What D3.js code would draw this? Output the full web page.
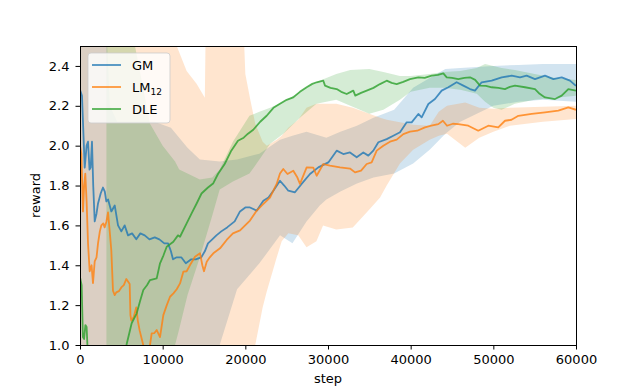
<!DOCTYPE html>
<html>
<head>
<meta charset="utf-8">
<script src="https://cdn.jsdelivr.net/npm/d3@7"></script>
<style>
  body { margin: 0; background: #fff; }
  svg { display: block; font-family: "DejaVu Sans", sans-serif; }
</style>
</head>
<body>
<div id="chart"></div>
<script>
// tick values
const xTicks = [0, 10000, 20000, 30000, 40000, 50000, 60000];
const yTicks = [1.0, 1.2, 1.4, 1.6, 1.8, 2.0, 2.2, 2.4];

// GM mean curve
const gmSteps = [0, 240, 570, 800, 970, 1150, 1290, 1450, 1600, 1780, 2000, 2180, 2500, 2780, 3000, 3180, 3400, 3790, 4200, 4600, 5000, 5400, 5810, 6300, 6810, 7300, 7830, 8400, 9040, 9600, 10200, 10650, 11000, 11250, 11700, 12250, 12800, 13460, 14000, 14670, 15100, 15480, 16000, 16500, 17090, 17800, 18710, 19355, 20000, 20560, 21370, 22180, 22800, 23390, 24190, 24700, 25200, 26000, 26810, 27820, 28830, 30040, 31050, 31850, 32660, 33470, 34270, 34880, 35480, 36090, 37100, 37900, 38710, 39520, 40120, 40930, 41330, 42140, 42940, 43750, 44560, 45560, 46370, 47180, 47780, 48590, 49800, 51010, 52220, 53230, 54030, 55040, 56250, 57260, 58270, 59270, 60000];
const gmMean = [2.28, 2.25, 1.89, 2.0, 2.02, 1.88, 1.89, 2.02, 1.8, 1.62, 1.66, 1.71, 1.76, 1.79, 1.77, 1.72, 1.73, 1.67, 1.7, 1.6, 1.57, 1.6, 1.55, 1.56, 1.53, 1.56, 1.55, 1.53, 1.54, 1.53, 1.51, 1.51, 1.47, 1.43, 1.44, 1.44, 1.41, 1.43, 1.43, 1.44, 1.47, 1.51, 1.53, 1.55, 1.57, 1.59, 1.62, 1.67, 1.69, 1.69, 1.674, 1.724, 1.74, 1.774, 1.824, 1.8, 1.774, 1.766, 1.808, 1.858, 1.891, 1.916, 1.975, 1.958, 1.966, 1.942, 1.966, 1.95, 1.975, 2.017, 2.033, 2.05, 2.067, 2.117, 2.117, 2.159, 2.142, 2.209, 2.234, 2.276, 2.293, 2.318, 2.301, 2.284, 2.276, 2.318, 2.326, 2.343, 2.351, 2.343, 2.351, 2.334, 2.351, 2.334, 2.343, 2.326, 2.3];

// GM spread
const gmBandSteps = [0, 3000, 3600, 4500, 9000, 11000, 13000, 14500, 16900, 19000, 21700, 24200, 25700, 27400, 29000, 29800, 31500, 33500, 35500, 38000, 40300, 42300, 44200, 46000, 48000, 50000, 53000, 56000, 60000];
const gmLow = [0.5, 0.5, 0.5, 0.5, 0.5, 0.5, 0.6, 0.8, 1.0, 1.28, 1.41, 1.55, 1.51, 1.62, 1.7, 1.73, 1.77, 1.81, 1.84, 1.86, 1.91, 1.98, 2.06, 2.12, 2.16, 2.2, 2.22, 2.23, 2.22];
const gmHigh = [2.8, 2.8, 2.2, 2.12, 2.12, 2.09, 1.99, 1.93, 1.92, 1.93, 1.96, 2.03, 2.05, 2.07, 2.05, 2.04, 2.07, 2.1, 2.14, 2.18, 2.29, 2.34, 2.385, 2.39, 2.395, 2.4, 2.405, 2.41, 2.41];

// LM12 mean curve
const lmSteps = [0, 160, 360, 500, 640, 800, 970, 1170, 1400, 1570, 1780, 2000, 2180, 2400, 2580, 2820, 2980, 3200, 3390, 3590, 3790, 3990, 4200, 4390, 4700, 5000, 5300, 5600, 6010, 6100, 6210, 6500, 6810, 7000, 7220, 7620, 7900, 8200, 8470, 8670, 9000, 9280, 9680, 10080, 10500, 10890, 11300, 11700, 12100, 12500, 12900, 13310, 13910, 14520, 14800, 15000, 15330, 15700, 16130, 16940, 17740, 18500, 19360, 20560, 21300, 22000, 22980, 23790, 24190, 24590, 25100, 25800, 26300, 26610, 27420, 28220, 28630, 29430, 30240, 31450, 32660, 33270, 34000, 34680, 35280, 35890, 36690, 37500, 38310, 39110, 39920, 40800, 41730, 42500, 43350, 43900, 44400, 45100, 45760, 46970, 48180, 49390, 50600, 51410, 52200, 53030, 54640, 56250, 57860, 59070, 60000];
const lmMean = [2.0, 1.96, 1.67, 1.8, 1.86, 1.72, 1.51, 1.37, 1.4, 1.31, 1.42, 1.44, 1.51, 1.57, 1.6, 1.61, 1.59, 1.62, 1.665, 1.573, 1.473, 1.272, 1.25, 1.264, 1.27, 1.289, 1.3, 1.331, 1.306, 1.15, 1.122, 1.14, 1.189, 1.12, 1.072, 1.005, 0.96, 0.98, 1.0, 1.058, 1.06, 1.075, 1.04, 1.15, 1.2, 1.242, 1.259, 1.28, 1.309, 1.368, 1.37, 1.401, 1.443, 1.46, 1.4, 1.37, 1.418, 1.44, 1.46, 1.485, 1.527, 1.56, 1.575, 1.624, 1.67, 1.7, 1.74, 1.808, 1.86, 1.883, 1.858, 1.874, 1.84, 1.808, 1.891, 1.89, 1.849, 1.908, 1.9, 1.891, 1.885, 1.866, 1.875, 1.908, 1.916, 1.975, 2.0, 2.02, 2.03, 2.058, 2.07, 2.075, 2.092, 2.1, 2.108, 2.125, 2.1, 2.11, 2.108, 2.1, 2.075, 2.1, 2.092, 2.125, 2.13, 2.15, 2.159, 2.167, 2.176, 2.192, 2.18];

// LM12 spread
const lmBandSteps = [0, 11700, 12900, 14100, 15100, 15300, 19500, 20000, 20600, 21200, 22100, 22600, 23800, 24400, 25200, 26400, 27400, 28600, 29400, 31000, 33000, 35000, 36300, 37100, 38700, 40300, 42300, 43400, 44400, 46600, 48300, 50000, 52000, 56000, 60000];
const lmLow = [0.5, 0.5, 0.5, 0.5, 0.5, 0.5, 0.7, 0.75, 0.85, 1.0, 1.19, 1.27, 1.44, 1.52, 1.56, 1.55, 1.49, 1.52, 1.6, 1.58, 1.59, 1.68, 1.74, 1.8, 1.91, 1.98, 2.03, 2.05, 2.06, 1.99, 2.04, 2.07, 2.1, 2.12, 2.134];
const lmHigh = [2.8, 2.5, 2.375, 2.31, 2.24, 2.9, 2.9, 2.36, 2.23, 2.11, 2.02, 2.0, 2.03, 2.05, 2.09, 2.13, 2.19, 2.21, 2.21, 2.21, 2.19, 2.16, 2.14, 2.13, 2.117, 2.105, 2.1, 2.17, 2.2, 2.217, 2.19, 2.185, 2.19, 2.195, 2.2];

// DLE mean curve
const dleSteps = [0, 200, 350, 500, 650, 800, 950, 1500, 3000, 4500, 5300, 5650, 6250, 6860, 7260, 7660, 8100, 8470, 9280, 9680, 10100, 10490, 11290, 11850, 12100, 12900, 13500, 14110, 14700, 15480, 16100, 16690, 17500, 18300, 19110, 19800, 20320, 20960, 21800, 22580, 23400, 24190, 25000, 25800, 26600, 27420, 28100, 28630, 29430, 29640, 30300, 31050, 31600, 32260, 33060, 33300, 34000, 34680, 35500, 36290, 37100, 37700, 38310, 39100, 39920, 40930, 41700, 42540, 43300, 43950, 44360, 45000, 45760, 46500, 47180, 47800, 48390, 49100, 49800, 50600, 51410, 52000, 52620, 53830, 55040, 55600, 56250, 57460, 58270, 59070, 60000];
const dleMean = [1.34, 1.3, 1.04, 1.03, 1.1, 1.09, 0.95, 0.8, 0.7, 0.8, 0.93, 1.005, 1.109, 1.159, 1.22, 1.276, 1.3, 1.326, 1.334, 1.41, 1.45, 1.493, 1.518, 1.55, 1.543, 1.61, 1.66, 1.71, 1.76, 1.79, 1.81, 1.858, 1.908, 1.975, 2.025, 2.04, 2.06, 2.08, 2.12, 2.15, 2.19, 2.21, 2.23, 2.242, 2.27, 2.293, 2.31, 2.318, 2.326, 2.301, 2.29, 2.284, 2.27, 2.259, 2.276, 2.251, 2.265, 2.276, 2.29, 2.309, 2.326, 2.315, 2.309, 2.32, 2.334, 2.343, 2.34, 2.351, 2.355, 2.363, 2.343, 2.34, 2.334, 2.34, 2.343, 2.33, 2.301, 2.3, 2.293, 2.29, 2.284, 2.295, 2.301, 2.293, 2.284, 2.26, 2.242, 2.234, 2.251, 2.284, 2.276];

// DLE spread
const dleBandSteps = [3200, 6650, 8470, 10000, 11500, 12000, 13000, 14500, 16000, 16900, 18500, 20500, 21700, 23000, 24600, 26600, 28600, 31000, 32700, 35000, 36700, 38700, 40000, 42300, 44000, 46000, 48000, 49000, 50000, 51000, 52600, 55000, 57500, 60000];
const dleLow = [0.5, 0.5, 0.5, 0.6, 1.0, 1.08, 1.25, 1.44, 1.65, 1.78, 1.82, 1.86, 1.93, 2.01, 2.06, 2.14, 2.21, 2.23, 2.2, 2.16, 2.18, 2.23, 2.27, 2.29, 2.29, 2.28, 2.26, 2.22, 2.19, 2.18, 2.21, 2.23, 2.24, 2.25];
const dleHigh = [2.9, 2.5, 2.11, 2.0, 1.92, 1.88, 1.86, 1.83, 1.84, 1.88, 2.02, 2.15, 2.17, 2.19, 2.22, 2.27, 2.32, 2.36, 2.38, 2.385, 2.37, 2.35, 2.35, 2.36, 2.37, 2.375, 2.39, 2.41, 2.4, 2.39, 2.38, 2.36, 2.34, 2.33];

const series = [
  { name: "GM", color: "#1f77b4", steps: gmSteps, mean: gmMean, bandSteps: gmBandSteps, low: gmLow, high: gmHigh },
  { name: "LM", sub: "12", color: "#ff7f0e", steps: lmSteps, mean: lmMean, bandSteps: lmBandSteps, low: lmLow, high: lmHigh },
  { name: "DLE", color: "#2ca02c", steps: dleSteps, mean: dleMean, bandSteps: dleBandSteps, low: dleLow, high: dleHigh },
];

const width = 640, height = 387;
const m = { left: 80, right: 576, top: 46, bottom: 345 };

const x = d3.scaleLinear().domain([0, 60000]).range([m.left, m.right]);
const y = d3.scaleLinear().domain([1.0, 2.5]).range([m.bottom, m.top]);

const svg = d3.select("#chart").append("svg")
  .attr("width", width)
  .attr("height", height);

svg.append("clipPath").attr("id", "plot-clip")
  .append("rect")
  .attr("x", m.left).attr("y", m.top)
  .attr("width", m.right - m.left).attr("height", m.bottom - m.top);

const plot = svg.append("g").attr("clip-path", "url(#plot-clip)");

// shaded spreads first
series.forEach((s) => {
  const area = d3.area()
    .x((d) => x(d[0]))
    .y0((d) => y(d[1]))
    .y1((d) => y(d[2]));
  const pts = s.bandSteps.map((st, i) => [st, s.low[i], s.high[i]]);
  plot.append("path")
    .datum(pts)
    .attr("d", area)
    .attr("fill", s.color)
    .attr("fill-opacity", 0.2)
    .attr("stroke", "none");
});

// mean lines on top
series.forEach((s) => {
  const line = d3.line()
    .x((d) => x(d[0]))
    .y((d) => y(d[1]));
  plot.append("path")
    .datum(s.steps.map((st, i) => [st, s.mean[i]]))
    .attr("d", line)
    .attr("fill", "none")
    .attr("stroke", s.color)
    .attr("stroke-opacity", 0.8)
    .attr("stroke-width", 1.8)
    .attr("stroke-linejoin", "round");
});

// axes
const xAxis = svg.append("g")
  .attr("transform", `translate(0,${m.bottom})`)
  .call(d3.axisBottom(x).tickValues(xTicks).tickFormat(d3.format("d")).tickSize(4.5).tickPadding(5));
const yAxis = svg.append("g")
  .attr("transform", `translate(${m.left},0)`)
  .call(d3.axisLeft(y).tickValues(yTicks).tickFormat(d3.format(".1f")).tickSize(4.5).tickPadding(6));

[xAxis, yAxis].forEach((g) => {
  g.select(".domain").remove();
  g.selectAll("line").attr("stroke", "#000").attr("stroke-width", 1);
  g.selectAll("text")
    .attr("fill", "#000")
    .style("font-family", "DejaVu Sans")
    .style("font-size", "13px");
});

// frame
svg.append("rect")
  .attr("x", m.left).attr("y", m.top)
  .attr("width", m.right - m.left).attr("height", m.bottom - m.top)
  .attr("fill", "none")
  .attr("stroke", "#000")
  .attr("stroke-width", 1)
  .attr("shape-rendering", "crispEdges");

// axis labels
svg.append("text")
  .attr("x", (m.left + m.right) / 2)
  .attr("y", 383)
  .attr("text-anchor", "middle")
  .style("font-size", "13px")
  .text("step");

svg.append("text")
  .attr("transform", `translate(40,${(m.top + m.bottom) / 2}) rotate(-90)`)
  .attr("text-anchor", "middle")
  .style("font-size", "13px")
  .text("reward");

// legend
const legend = svg.append("g");
legend.append("rect")
  .attr("x", 88).attr("y", 53)
  .attr("width", 82).attr("height", 70)
  .attr("rx", 3)
  .attr("fill", "#fff").attr("fill-opacity", 0.8)
  .attr("stroke", "#ccc").attr("stroke-opacity", 0.8);

series.forEach((s, i) => {
  const ly = 65 + i * 22;
  legend.append("line")
    .attr("x1", 92).attr("x2", 121)
    .attr("y1", ly).attr("y2", ly)
    .attr("stroke", s.color)
    .attr("stroke-opacity", 0.8)
    .attr("stroke-width", 1.8);
  const t = legend.append("text")
    .attr("x", 132)
    .attr("y", ly + 5)
    .style("font-size", "13px")
    .text(s.name);
  if (s.sub) {
    t.append("tspan")
      .attr("dy", 3)
      .style("font-size", "9px")
      .text(s.sub);
  }
});
</script>
</body>
</html>
